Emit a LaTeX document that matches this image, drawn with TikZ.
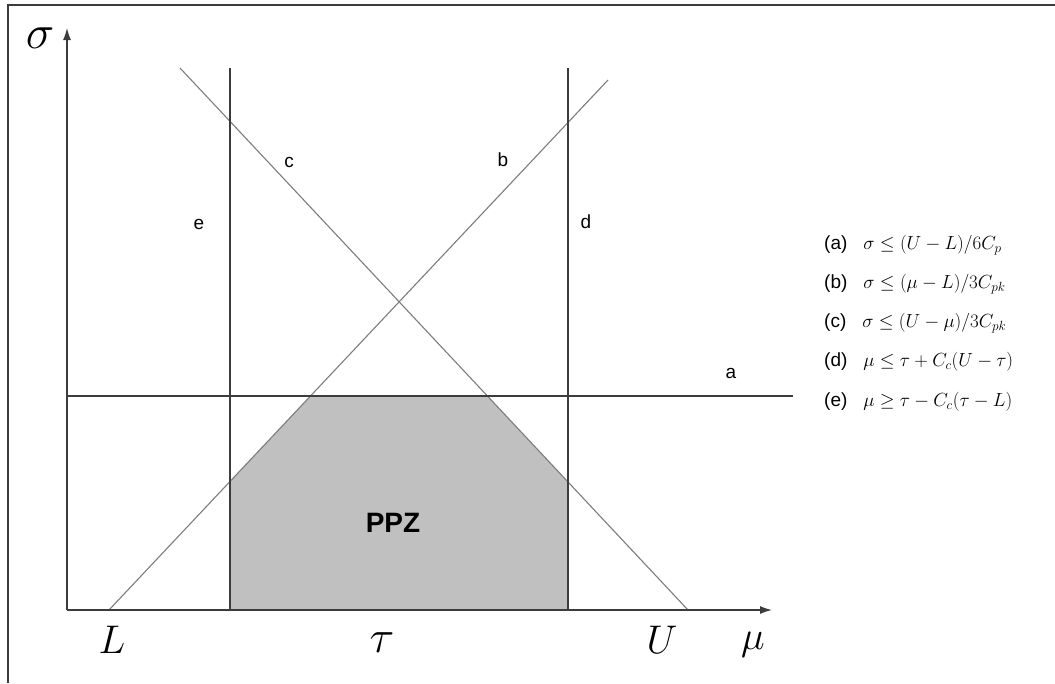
\RequirePackage{fix-cm}
\documentclass[tikz,border=0pt]{standalone}
\usepackage{fontspec}
\setmainfont{Liberation Sans}
\usetikzlibrary{arrows.meta}
\definecolor{zone}{HTML}{C0C0C0}
\definecolor{ink}{HTML}{3C3C3C}
\definecolor{slant}{HTML}{7C7C7C}
\newcommand{\axlabel}[2][40]{{\fontsize{#1}{#1}\selectfont$#2$}}
\newcommand{\cond}[2]{{\fontsize{19}{21}\selectfont(#1)\hspace{16pt}$#2$}}

\begin{document}
\begin{tikzpicture}[x=1pt, y=-1pt,
    frame/.style={draw=ink, line width=1.2pt},
    axis/.style={draw=ink, line width=1.2pt, -{Latex[length=12pt,width=8pt]}},
    bound/.style={draw=ink, line width=1.1pt},
    slope/.style={draw=slant, line width=1.1pt},
    tag/.style={font=\fontsize{19}{21}\selectfont, inner sep=0pt},
    legend/.style={anchor=west, inner sep=0pt}
  ]
    \useasboundingbox (0,0) rectangle (1055,683);
    \draw[frame] (1055,5) -- (8,5) -- (8,683);
    \coordinate (origin) at (67,610);
    \coordinate (sigtop) at (67,28);
    \coordinate (mutop) at (772,610);
    \coordinate (Lpt) at (109,610);
    \coordinate (Upt) at (688,610);
    \coordinate (btop) at (608,80);
    \coordinate (ctop) at (180,68);
    \coordinate (etop) at (230,68);
    \coordinate (ebot) at (230,610);
    \coordinate (dtop) at (568,68);
    \coordinate (dbot) at (568,610);
    \coordinate (aleft) at (67,396);
    \coordinate (aright) at (793,396);
    \fill[zone] (230,610) -- (230,481.5) -- (310.5,396) -- (487,396) -- (568,482) -- (568,610) -- cycle;
    \draw[slope] (Lpt) -- (btop);
    \draw[slope] (ctop) -- (Upt);
    \draw[bound] (etop) -- (ebot);
    \draw[bound] (dtop) -- (dbot);
    \draw[bound] (aleft) -- (aright);
    \draw[axis] (origin) -- (sigtop);
    \draw[axis] (origin) -- (mutop);
    \node[tag] (labc) at (289,162) {c};
    \node[tag] (labb) at (503,160) {b};
    \node[tag] (labe) at (199,224) {e};
    \node[tag] (labd) at (586,222) {d};
    \node[tag] (laba) at (731,373) {a};
    \node[font=\fontsize{28}{30}\selectfont\bfseries] (ppz) at (393,523) {PPZ};
    \node (sig) at (40,38) {\axlabel[48]{\sigma}};
    \node (labL) at (112,640) {\axlabel{L}};
    \node (labtau) at (382,643) {\axlabel[46]{\tau}};
    \node (labU) at (662,640) {\axlabel{U}};
    \node (labmu) at (753,645) {\axlabel{\mu}};
    \node[legend] (conda) at (824,245) {\cond{a}{\sigma \le (U-L)/6C_p}};
    \node[legend] (condb) at (824,284) {\cond{b}{\sigma \le (\mu-L)/3C_{pk}}};
    \node[legend] (condc) at (824,323) {\cond{c}{\sigma \le (U-\mu)/3C_{pk}}};
    \node[legend] (condd) at (824,362) {\cond{d}{\mu \le \tau + C_c(U-\tau)}};
    \node[legend] (conde) at (824,402) {\cond{e}{\mu \ge \tau - C_c(\tau-L)}};
  \end{tikzpicture}
\end{document}
